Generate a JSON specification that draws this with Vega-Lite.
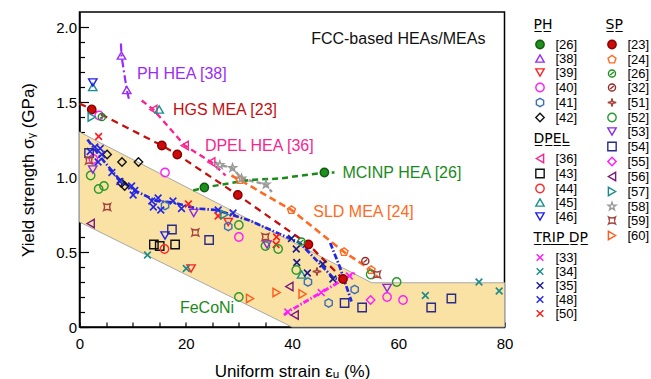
{
  "$schema": "https://vega.github.io/schema/vega-lite/v6.json",
  "width": 425,
  "height": 315,
  "autosize": {"type": "none"},
  "padding": {"left": 79.5, "top": 12, "right": 146.5, "bottom": 52},
  "background": "white",
  "config": {
    "font": "Liberation Sans",
    "view": {"stroke": "black", "strokeWidth": 1.5},
    "axis": {"labelFont": "Liberation Sans", "titleFont": "Liberation Sans", "labelColor": "black", "titleColor": "black", "domainColor": "black", "tickColor": "black", "grid": false},
    "legend": {"labelFont": "Liberation Sans", "labelFontSize": 13, "titleFont": "DejaVu Sans", "titleFontSize": 14, "titleFontWeight": "normal", "titleColor": "black", "labelColor": "black", "rowPadding": 0, "symbolStrokeWidth": 1.4, "symbolSize": 70, "labelOffset": 9, "titlePadding": 6, "symbolLimit": 0}
  },
  "datasets": {
    "band": [
      {"x": 0, "y": 0.70, "y2": 1.30},
      {"x": 40, "y": 0, "y2": 0.569},
      {"x": 55, "y": 0, "y2": 0.295},
      {"x": 80, "y": 0, "y2": 0.295}
    ],
    "lines": [
      {"s": "PH38", "x": 7.8, "y": 1.89},
      {"s": "PH38", "x": 7.9, "y": 1.81},
      {"s": "PH38", "x": 8.9, "y": 1.58},
      {"s": "PH38", "x": 9.3, "y": 1.52},
      {"s": "HGS", "x": 0, "y": 1.49},
      {"s": "HGS", "x": 2.3, "y": 1.45},
      {"s": "HGS", "x": 15.5, "y": 1.21},
      {"s": "HGS", "x": 18.4, "y": 1.15},
      {"s": "HGS", "x": 29.8, "y": 0.88},
      {"s": "HGS", "x": 43.1, "y": 0.55},
      {"s": "HGS", "x": 49.6, "y": 0.32},
      {"s": "DPEL", "x": 11.7, "y": 1.51},
      {"s": "DPEL", "x": 13.9, "y": 1.45},
      {"s": "DPEL", "x": 19.8, "y": 1.21},
      {"s": "DPEL", "x": 24.8, "y": 1.10},
      {"s": "DPEL", "x": 27.5, "y": 1.01},
      {"s": "STAR", "x": 25.5, "y": 1.10},
      {"s": "STAR", "x": 26.4, "y": 1.08},
      {"s": "STAR", "x": 28.8, "y": 1.06},
      {"s": "STAR", "x": 30.5, "y": 0.99},
      {"s": "STAR", "x": 35.1, "y": 0.95},
      {"s": "STAR", "x": 36.2, "y": 0.90},
      {"s": "MCINP", "x": 21.4, "y": 0.91},
      {"s": "MCINP", "x": 23.5, "y": 0.93},
      {"s": "MCINP", "x": 32, "y": 0.98},
      {"s": "MCINP", "x": 37.7, "y": 0.99},
      {"s": "MCINP", "x": 46.1, "y": 1.03},
      {"s": "MCINP", "x": 48, "y": 1.03},
      {"s": "SLD", "x": 28.6, "y": 1.01},
      {"s": "SLD", "x": 30.2, "y": 0.98},
      {"s": "SLD", "x": 39.9, "y": 0.78},
      {"s": "SLD", "x": 49.8, "y": 0.50},
      {"s": "SLD", "x": 54.9, "y": 0.38},
      {"s": "SLD", "x": 56.2, "y": 0.33},
      {"s": "BLUEA", "x": 1.5, "y": 1.25},
      {"s": "BLUEA", "x": 4, "y": 1.13},
      {"s": "BLUEA", "x": 7.6, "y": 0.98},
      {"s": "BLUEA", "x": 10.4, "y": 0.91},
      {"s": "BLUEA", "x": 14.5, "y": 0.84},
      {"s": "BLUEA", "x": 17.6, "y": 0.83},
      {"s": "BLUEA", "x": 22, "y": 0.79},
      {"s": "BLUEA", "x": 25.8, "y": 0.78},
      {"s": "BLUEA", "x": 32, "y": 0.71},
      {"s": "BLUEA", "x": 35.8, "y": 0.65},
      {"s": "BLUEA", "x": 41.5, "y": 0.56},
      {"s": "BLUEA", "x": 47.7, "y": 0.33},
      {"s": "BLUEA", "x": 50.2, "y": 0.30},
      {"s": "BLUEB", "x": 47.2, "y": 0.56},
      {"s": "BLUEB", "x": 49.0, "y": 0.40},
      {"s": "BLUEB", "x": 51.2, "y": 0.17},
      {"s": "MAG", "x": 38.5, "y": 0.08},
      {"s": "MAG", "x": 39.2, "y": 0.10},
      {"s": "MAG", "x": 45.5, "y": 0.23},
      {"s": "MAG", "x": 50.8, "y": 0.34},
      {"s": "MAG", "x": 51.8, "y": 0.36}
    ],
    "labels": [
      {"t": "FCC-based HEAs/MEAs", "x": 43.6, "y": 1.92},
      {"t": "PH HEA [38]", "x": 10.8, "y": 1.69},
      {"t": "HGS MEA [23]", "x": 17.6, "y": 1.45},
      {"t": "DPEL HEA [36]", "x": 23.6, "y": 1.21},
      {"t": "MCINP HEA [26]", "x": 49.5, "y": 1.03},
      {"t": "SLD MEA [24]", "x": 44.0, "y": 0.77},
      {"t": "FeCoNi", "x": 18.9, "y": 0.13}
    ],
    "pts": [
      {"g": "PH", "ref": "[26]", "x": 23.5, "y": 0.93},
      {"g": "PH", "ref": "[26]", "x": 46.1, "y": 1.03},
      {"g": "PH", "ref": "[38]", "x": 7.9, "y": 1.81},
      {"g": "PH", "ref": "[38]", "x": 8.9, "y": 1.58},
      {"g": "PH", "ref": "[39]", "x": 28.0, "y": 0.70},
      {"g": "PH", "ref": "[39]", "x": 21.0, "y": 0.39},
      {"g": "PH", "ref": "[40]", "x": 3.7, "y": 1.41},
      {"g": "PH", "ref": "[40]", "x": 2.6, "y": 1.12},
      {"g": "PH", "ref": "[40]", "x": 16.1, "y": 1.03},
      {"g": "PH", "ref": "[40]", "x": 30.0, "y": 0.60},
      {"g": "PH", "ref": "[40]", "x": 57.9, "y": 0.20},
      {"g": "PH", "ref": "[40]", "x": 60.9, "y": 0.18},
      {"g": "PH", "ref": "[41]", "x": 16.1, "y": 0.81},
      {"g": "PH", "ref": "[41]", "x": 28.0, "y": 0.67},
      {"g": "PH", "ref": "[41]", "x": 43.0, "y": 0.30},
      {"g": "PH", "ref": "[41]", "x": 46.9, "y": 0.16},
      {"g": "PH", "ref": "[41]", "x": 51.8, "y": 0.25},
      {"g": "PH", "ref": "[42]", "x": 5.2, "y": 1.15},
      {"g": "PH", "ref": "[42]", "x": 8.0, "y": 1.10},
      {"g": "PH", "ref": "[42]", "x": 11.1, "y": 1.10},
      {"g": "PH", "ref": "[42]", "x": 7.9, "y": 0.96},
      {"g": "PH", "ref": "[42]", "x": 8.5, "y": 0.94},
      {"g": "DPEL", "ref": "[36]", "x": 13.9, "y": 1.45},
      {"g": "DPEL", "ref": "[36]", "x": 19.8, "y": 1.21},
      {"g": "DPEL", "ref": "[36]", "x": 24.8, "y": 1.10},
      {"g": "DPEL", "ref": "[43]", "x": 14.0, "y": 0.55},
      {"g": "DPEL", "ref": "[43]", "x": 15.1, "y": 0.54},
      {"g": "DPEL", "ref": "[43]", "x": 18.0, "y": 0.55},
      {"g": "DPEL", "ref": "[44]", "x": 16.0, "y": 0.52},
      {"g": "DPEL", "ref": "[45]", "x": 2.5, "y": 1.60},
      {"g": "DPEL", "ref": "[45]", "x": 15.0, "y": 1.45},
      {"g": "DPEL", "ref": "[45]", "x": 41.8, "y": 0.35},
      {"g": "DPEL", "ref": "[46]", "x": 2.5, "y": 1.63},
      {"g": "DPEL", "ref": "[46]", "x": 16.1, "y": 0.61},
      {"g": "TRIP", "ref": "[33]", "x": 39.2, "y": 0.10},
      {"g": "TRIP", "ref": "[33]", "x": 45.5, "y": 0.23},
      {"g": "TRIP", "ref": "[33]", "x": 50.8, "y": 0.34},
      {"g": "TRIP", "ref": "[34]", "x": 12.8, "y": 0.48},
      {"g": "TRIP", "ref": "[34]", "x": 20.1, "y": 0.39},
      {"g": "TRIP", "ref": "[34]", "x": 65.1, "y": 0.21},
      {"g": "TRIP", "ref": "[34]", "x": 75.2, "y": 0.30},
      {"g": "TRIP", "ref": "[34]", "x": 79.0, "y": 0.24},
      {"g": "TRIP", "ref": "[35]", "x": 39.9, "y": 0.59},
      {"g": "TRIP", "ref": "[35]", "x": 40.8, "y": 0.52},
      {"g": "TRIP", "ref": "[35]", "x": 40.9, "y": 0.43},
      {"g": "TRIP", "ref": "[35]", "x": 42.9, "y": 0.36},
      {"g": "TRIP", "ref": "[35]", "x": 45.8, "y": 0.42},
      {"g": "TRIP", "ref": "[35]", "x": 47.7, "y": 0.32},
      {"g": "TRIP", "ref": "[48]", "x": 2.0, "y": 1.17},
      {"g": "TRIP", "ref": "[48]", "x": 2.9, "y": 1.20},
      {"g": "TRIP", "ref": "[48]", "x": 3.9, "y": 1.19},
      {"g": "TRIP", "ref": "[48]", "x": 4.2, "y": 1.15},
      {"g": "TRIP", "ref": "[48]", "x": 3.5, "y": 1.10},
      {"g": "TRIP", "ref": "[48]", "x": 6.1, "y": 1.03},
      {"g": "TRIP", "ref": "[48]", "x": 7.6, "y": 0.97},
      {"g": "TRIP", "ref": "[48]", "x": 9.8, "y": 0.94},
      {"g": "TRIP", "ref": "[48]", "x": 10.4, "y": 0.91},
      {"g": "TRIP", "ref": "[48]", "x": 10.1, "y": 0.88},
      {"g": "TRIP", "ref": "[48]", "x": 13.6, "y": 0.84},
      {"g": "TRIP", "ref": "[48]", "x": 14.8, "y": 0.86},
      {"g": "TRIP", "ref": "[48]", "x": 13.9, "y": 0.80},
      {"g": "TRIP", "ref": "[48]", "x": 15.3, "y": 0.78},
      {"g": "TRIP", "ref": "[48]", "x": 17.6, "y": 0.84},
      {"g": "TRIP", "ref": "[48]", "x": 19.2, "y": 0.79},
      {"g": "TRIP", "ref": "[48]", "x": 26.1, "y": 0.78},
      {"g": "TRIP", "ref": "[48]", "x": 28.9, "y": 0.76},
      {"g": "TRIP", "ref": "[50]", "x": 3.6, "y": 1.27},
      {"g": "TRIP", "ref": "[50]", "x": 20.5, "y": 0.82},
      {"g": "TRIP", "ref": "[50]", "x": 26.1, "y": 0.74},
      {"g": "TRIP", "ref": "[50]", "x": 37.1, "y": 0.60},
      {"g": "TRIP", "ref": "[50]", "x": 37.0, "y": 0.55},
      {"g": "SP", "ref": "[23]", "x": 2.3, "y": 1.45},
      {"g": "SP", "ref": "[23]", "x": 15.5, "y": 1.21},
      {"g": "SP", "ref": "[23]", "x": 18.4, "y": 1.15},
      {"g": "SP", "ref": "[23]", "x": 29.8, "y": 0.88},
      {"g": "SP", "ref": "[23]", "x": 43.1, "y": 0.55},
      {"g": "SP", "ref": "[23]", "x": 49.6, "y": 0.32},
      {"g": "SP", "ref": "[24]", "x": 30.2, "y": 0.98},
      {"g": "SP", "ref": "[24]", "x": 39.9, "y": 0.78},
      {"g": "SP", "ref": "[24]", "x": 49.8, "y": 0.50},
      {"g": "SP", "ref": "[24]", "x": 54.9, "y": 0.38},
      {"g": "SP", "ref": "[26]", "x": 4.2, "y": 1.40},
      {"g": "SP", "ref": "[26]", "x": 41.8, "y": 0.57},
      {"g": "SP", "ref": "[32]", "x": 53.8, "y": 0.44},
      {"g": "SP", "ref": "[51]", "x": 44.7, "y": 0.37},
      {"g": "SP", "ref": "[52]", "x": 2.1, "y": 1.01},
      {"g": "SP", "ref": "[52]", "x": 3.6, "y": 0.92},
      {"g": "SP", "ref": "[52]", "x": 4.6, "y": 0.94},
      {"g": "SP", "ref": "[52]", "x": 30.0, "y": 0.68},
      {"g": "SP", "ref": "[52]", "x": 35.0, "y": 0.54},
      {"g": "SP", "ref": "[52]", "x": 37.4, "y": 0.52},
      {"g": "SP", "ref": "[52]", "x": 40.8, "y": 0.38},
      {"g": "SP", "ref": "[52]", "x": 30.0, "y": 0.20},
      {"g": "SP", "ref": "[52]", "x": 54.8, "y": 0.35},
      {"g": "SP", "ref": "[52]", "x": 59.7, "y": 0.30},
      {"g": "SP", "ref": "[53]", "x": 2.5, "y": 1.05},
      {"g": "SP", "ref": "[53]", "x": 21.5, "y": 0.76},
      {"g": "SP", "ref": "[53]", "x": 35.3, "y": 0.55},
      {"g": "SP", "ref": "[53]", "x": 57.9, "y": 0.26},
      {"g": "SP", "ref": "[54]", "x": 1.8, "y": 1.16},
      {"g": "SP", "ref": "[54]", "x": 17.4, "y": 0.65},
      {"g": "SP", "ref": "[54]", "x": 24.4, "y": 0.58},
      {"g": "SP", "ref": "[54]", "x": 49.9, "y": 0.16},
      {"g": "SP", "ref": "[54]", "x": 53.2, "y": 0.13},
      {"g": "SP", "ref": "[54]", "x": 66.2, "y": 0.13},
      {"g": "SP", "ref": "[54]", "x": 70.0, "y": 0.19},
      {"g": "SP", "ref": "[55]", "x": 54.8, "y": 0.18},
      {"g": "SP", "ref": "[56]", "x": 2.1, "y": 0.69},
      {"g": "SP", "ref": "[56]", "x": 39.5, "y": 0.27},
      {"g": "SP", "ref": "[56]", "x": 40.5, "y": 0.08},
      {"g": "SP", "ref": "[57]", "x": 2.3, "y": 1.40},
      {"g": "SP", "ref": "[57]", "x": 27.3, "y": 0.75},
      {"g": "SP", "ref": "[58]", "x": 26.4, "y": 1.08},
      {"g": "SP", "ref": "[58]", "x": 28.8, "y": 1.06},
      {"g": "SP", "ref": "[58]", "x": 30.5, "y": 0.99},
      {"g": "SP", "ref": "[58]", "x": 35.1, "y": 0.95},
      {"g": "SP", "ref": "[59]", "x": 1.8, "y": 1.11},
      {"g": "SP", "ref": "[59]", "x": 5.2, "y": 0.80},
      {"g": "SP", "ref": "[59]", "x": 21.8, "y": 0.63},
      {"g": "SP", "ref": "[59]", "x": 35.0, "y": 0.60},
      {"g": "SP", "ref": "[59]", "x": 56.0, "y": 0.35},
      {"g": "SP", "ref": "[60]", "x": 32.1, "y": 0.19},
      {"g": "SP", "ref": "[60]", "x": 37.1, "y": 0.23},
      {"g": "SP", "ref": "[60]", "x": 42.0, "y": 0.22}
    ]
  },
  "encoding": {
    "x": {
      "field": "x", "type": "quantitative",
      "scale": {"domain": [0, 80], "nice": false, "zero": false},
      "axis": {
        "title": "Uniform strain εᵤ (%)", "titleFontSize": 17, "titleFontWeight": "normal", "titlePadding": 12,
        "values": [0, 5, 10, 15, 20, 25, 30, 35, 40, 45, 50, 55, 60, 65, 70, 75, 80],
        "labelExpr": "datum.value % 20 === 0 ? format(datum.value, 'd') : ''",
        "labelFontSize": 15, "labelOverlap": false, "labelFlush": false,
        "tickSize": -5, "tickWidth": 1.2, "labelPadding": 14, "domainWidth": 1.5
      }
    },
    "y": {
      "field": "y", "type": "quantitative",
      "scale": {"domain": [0, 2.1], "nice": false, "zero": false},
      "axis": {
        "title": "Yield strength σᵧ (GPa)", "titleFontSize": 17, "titleFontWeight": "normal", "titlePadding": 18,
        "values": [0, 0.1, 0.2, 0.3, 0.4, 0.5, 0.6, 0.7, 0.8, 0.9, 1.0, 1.1, 1.2, 1.3, 1.4, 1.5, 1.6, 1.7, 1.8, 1.9, 2.0],
        "labelExpr": "abs(datum.value * 2 - round(datum.value * 2)) < 0.001 ? (datum.value === 0 ? '0' : format(datum.value, '.1f')) : ''",
        "labelFontSize": 15, "labelOverlap": false, "labelFlush": false,
        "tickSize": {"condition": {"test": "abs(datum.value * 2 - round(datum.value * 2)) < 0.001", "value": -9}, "value": -5},
        "tickWidth": 1.2, "labelPadding": 12, "domainWidth": 1.5
      }
    }
  },
  "layer": [
    {
      "data": {"name": "band"},
      "mark": {"type": "area", "fill": "#f9e2a4", "stroke": "#a8a8a8", "strokeWidth": 1, "interpolate": "linear"},
      "encoding": {"y2": {"field": "y2"}}
    },
    {
      "data": {"name": "lines"},
      "mark": {"type": "line", "interpolate": "linear"},
      "encoding": {
        "detail": {"field": "s"},
        "color": {"field": "s", "type": "nominal", "legend": null,
          "scale": {"domain": ["PH38", "HGS", "DPEL", "STAR", "MCINP", "SLD", "BLUEA", "BLUEB", "MAG"],
                    "range": ["#9a2cf5", "#c40f0f", "#f7268f", "#9a9a9a", "#1b8a1b", "#ff6a22", "#2326e6", "#2326e6", "#ff1cff"]}},
        "strokeDash": {"field": "s", "type": "nominal", "legend": null,
          "scale": {"domain": ["PH38", "HGS", "DPEL", "STAR", "MCINP", "SLD", "BLUEA", "BLUEB", "MAG"],
                    "range": [[8, 3, 2, 3], [7, 5], [6, 4], [5, 3], [6, 4], [7, 4], [6, 2, 1.5, 2], [6, 2, 1.5, 2], [6, 2, 1.5, 2]]}},
        "strokeWidth": {"field": "s", "type": "ordinal", "legend": null,
          "scale": {"domain": ["PH38", "HGS", "DPEL", "STAR", "MCINP", "SLD", "BLUEA", "BLUEB", "MAG"],
                    "range": [2.2, 2.8, 2.2, 1.5, 2.6, 2.6, 1.3, 1.3, 1.3]}}
      }
    },
    {
      "data": {"name": "labels"},
      "mark": {"type": "text", "align": "left", "baseline": "middle", "fontSize": 16, "font": "Liberation Sans"},
      "encoding": {
        "text": {"field": "t"},
        "color": {"field": "t", "type": "nominal", "legend": null,
          "scale": {"domain": ["FCC-based HEAs/MEAs", "PH HEA [38]", "HGS MEA [23]", "DPEL HEA [36]", "MCINP HEA [26]", "SLD MEA [24]", "FeCoNi"],
                    "range": ["#111111", "#9a2cf5", "#c40f0f", "#f7268f", "#1b8a1b", "#ff6a22", "#1b8a1b"]}}
      }
    },
    {
      "data": {"name": "pts"},
      "transform": [{"filter": "datum.g === 'PH'"}],
      "mark": {"type": "point", "size": 70, "strokeWidth": 1.4, "opacity": 1},
      "encoding": {
        "shape": {"field": "ref", "type": "nominal",
          "scale": {"domain": ["[26]", "[38]", "[39]", "[40]", "[41]", "[42]"],
                    "range": ["circle", "triangle-up", "triangle-down", "circle", "M0,-1L0.87,-0.5L0.87,0.5L0,1L-0.87,0.5L-0.87,-0.5Z", "diamond"]},
          "legend": {"title": "P̲H̲", "orient": "none", "legendX": 454, "legendY": 6}},
        "stroke": {"field": "ref", "type": "nominal",
          "scale": {"domain": ["[26]", "[38]", "[39]", "[40]", "[41]", "[42]"],
                    "range": ["#0d5c0d", "#9a2cf5", "#ff2222", "#ff1cff", "#3d6fb8", "#111111"]},
          "legend": {"title": "P̲H̲", "orient": "none", "legendX": 454, "legendY": 6}},
        "fill": {"field": "ref", "type": "nominal",
          "scale": {"domain": ["[26]", "[38]", "[39]", "[40]", "[41]", "[42]"],
                    "range": ["#1f8f1f", "transparent", "transparent", "transparent", "transparent", "transparent"]},
          "legend": {"title": "P̲H̲", "orient": "none", "legendX": 454, "legendY": 6}}
      }
    },
    {
      "data": {"name": "pts"},
      "transform": [{"filter": "datum.g === 'DPEL'"}],
      "mark": {"type": "point", "size": 70, "strokeWidth": 1.4, "opacity": 1},
      "encoding": {
        "shape": {"field": "ref", "type": "nominal",
          "scale": {"domain": ["[36]", "[43]", "[44]", "[45]", "[46]"],
                    "range": ["triangle-left", "square", "circle", "triangle-up", "triangle-down"]},
          "legend": {"title": "D̲P̲E̲L̲", "orient": "none", "legendX": 454, "legendY": 120}},
        "stroke": {"field": "ref", "type": "nominal",
          "scale": {"domain": ["[36]", "[43]", "[44]", "[45]", "[46]"],
                    "range": ["#f7268f", "#111111", "#ff2a2a", "#1a8f8f", "#2020ee"]},
          "legend": {"title": "D̲P̲E̲L̲", "orient": "none", "legendX": 454, "legendY": 120}},
        "fill": {"field": "ref", "type": "nominal",
          "scale": {"domain": ["[36]", "[43]", "[44]", "[45]", "[46]"],
                    "range": ["transparent", "transparent", "transparent", "transparent", "transparent"]},
          "legend": {"title": "D̲P̲E̲L̲", "orient": "none", "legendX": 454, "legendY": 120}}
      }
    },
    {
      "data": {"name": "pts"},
      "transform": [{"filter": "datum.g === 'TRIP'"}],
      "mark": {"type": "point", "size": 70, "strokeWidth": 1.6, "opacity": 1},
      "encoding": {
        "shape": {"field": "ref", "type": "nominal",
          "scale": {"domain": ["[33]", "[34]", "[35]", "[48]", "[50]"],
                    "range": ["M-0.8,-0.8L0.8,0.8M-0.8,0.8L0.8,-0.8", "M-0.8,-0.8L0.8,0.8M-0.8,0.8L0.8,-0.8", "M-0.8,-0.8L0.8,0.8M-0.8,0.8L0.8,-0.8", "M-0.8,-0.8L0.8,0.8M-0.8,0.8L0.8,-0.8", "M-0.8,-0.8L0.8,0.8M-0.8,0.8L0.8,-0.8"]},
          "legend": {"title": "T̲R̲I̲P̲ ̲D̲P̲", "orient": "none", "legendX": 454, "legendY": 219}},
        "stroke": {"field": "ref", "type": "nominal",
          "scale": {"domain": ["[33]", "[34]", "[35]", "[48]", "[50]"],
                    "range": ["#ff1cff", "#1a8a8a", "#1a1a8c", "#2326e6", "#ff1a1a"]},
          "legend": {"title": "T̲R̲I̲P̲ ̲D̲P̲", "orient": "none", "legendX": 454, "legendY": 219}},
        "fill": {"field": "ref", "type": "nominal",
          "scale": {"domain": ["[33]", "[34]", "[35]", "[48]", "[50]"],
                    "range": ["transparent", "transparent", "transparent", "transparent", "transparent"]},
          "legend": {"title": "T̲R̲I̲P̲ ̲D̲P̲", "orient": "none", "legendX": 454, "legendY": 219}}
      }
    },
    {
      "data": {"name": "pts"},
      "transform": [{"filter": "datum.g === 'SP'"}],
      "mark": {"type": "point", "size": 70, "strokeWidth": 1.4, "opacity": 1},
      "encoding": {
        "shape": {"field": "ref", "type": "nominal",
          "scale": {"domain": ["[23]", "[24]", "[26]", "[32]", "[51]", "[52]", "[53]", "[54]", "[55]", "[56]", "[57]", "[58]", "[59]", "[60]"],
                    "range": ["circle", "M0,-1L0.95,-0.31L0.59,0.81L-0.59,0.81L-0.95,-0.31Z", "M0.85,0A0.85,0.85,0,1,1,-0.85,0A0.85,0.85,0,1,1,0.85,0ZM-0.45,0.35L0.45,-0.35", "M0.85,0A0.85,0.85,0,1,1,-0.85,0A0.85,0.85,0,1,1,0.85,0ZM-0.45,0.35L0.45,-0.35", "M0,-1L0.2,-0.2L1,0L0.2,0.2L0,1L-0.2,0.2L-1,0L-0.2,-0.2Z", "circle", "triangle-down", "square", "diamond", "triangle-left", "triangle-right", "M0,-1L0.235,-0.324L0.951,-0.309L0.38,0.124L0.588,0.809L0,0.4L-0.588,0.809L-0.38,0.124L-0.951,-0.309L-0.235,-0.324Z", "M-0.8,-0.8Q0,-0.4 0.8,-0.8Q0.4,0 0.8,0.8Q0,0.4 -0.8,0.8Q-0.4,0 -0.8,-0.8Z", "triangle-right"]},
          "legend": {"title": "S̲P̲", "orient": "none", "legendX": 526, "legendY": 6}},
        "stroke": {"field": "ref", "type": "nominal",
          "scale": {"domain": ["[23]", "[24]", "[26]", "[32]", "[51]", "[52]", "[53]", "[54]", "[55]", "[56]", "[57]", "[58]", "[59]", "[60]"],
                    "range": ["#8a0000", "#ff6a22", "#1f8f1f", "#9a2a2a", "#a5403a", "#2a9a2a", "#8a2be2", "#2a2a8c", "#ff1cff", "#7a1a7a", "#1a8a8a", "#999999", "#a5403a", "#ff5a1a"]},
          "legend": {"title": "S̲P̲", "orient": "none", "legendX": 526, "legendY": 6}},
        "fill": {"field": "ref", "type": "nominal",
          "scale": {"domain": ["[23]", "[24]", "[26]", "[32]", "[51]", "[52]", "[53]", "[54]", "[55]", "[56]", "[57]", "[58]", "[59]", "[60]"],
                    "range": ["#cc0a0a", "transparent", "transparent", "transparent", "transparent", "transparent", "transparent", "transparent", "transparent", "transparent", "transparent", "transparent", "transparent", "transparent"]},
          "legend": {"title": "S̲P̲", "orient": "none", "legendX": 526, "legendY": 6}}
      }
    }
  ],
  "resolve": {
    "scale": {"color": "independent", "strokeDash": "independent", "strokeWidth": "independent", "shape": "independent", "stroke": "independent", "fill": "independent"},
    "legend": {"shape": "independent", "stroke": "independent", "fill": "independent"}
  }
}
